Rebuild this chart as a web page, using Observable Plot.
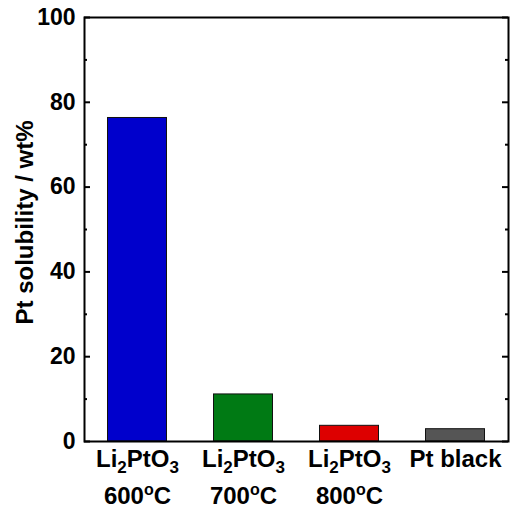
<!DOCTYPE html>
<html><head><meta charset="utf-8">
<script src="https://cdn.jsdelivr.net/npm/d3@7"></script>
<script src="https://cdn.jsdelivr.net/npm/@observablehq/plot@0.6"></script>
<style>
body{margin:0;background:#fff}
svg{font-family:Arial,"Liberation Sans",sans-serif;font-weight:bold}
</style>
</head><body><div id="chart"></div>
<script>
const categories = ["Li2PtO3 600oC", "Li2PtO3 700oC", "Li2PtO3 800oC", "Pt black"];
const values = [76.3, 11.1, 3.7, 2.9];
const colors = ["#0000cc", "#007a14", "#dd0000", "#555555"];
const labelLine1 = [
  [["Li",""],["2","sub"],["PtO",""],["3","sub"]],
  [["Li",""],["2","sub"],["PtO",""],["3","sub"]],
  [["Li",""],["2","sub"],["PtO",""],["3","sub"]],
  [["Pt black",""]]
];
const labelLine2 = [
  [["600",""],["o","sup"],["C",""]],
  [["700",""],["o","sup"],["C",""]],
  [["800",""],["o","sup"],["C",""]],
  []
];
const majorTicks = [0, 20, 40, 60, 80, 100];
const minorTicks = [10, 30, 50, 70, 90];
const yLabel = "Pt solubility / wt%";

const W = 513, H = 508, mL = 84, mT = 17, mR = 5, mB = 67;
const plotW = W - mL - mR;
const data = categories.map((c, i) => ({c, v: values[i], col: colors[i]}));

const chart = Plot.plot({
  width: W, height: H,
  marginLeft: mL, marginTop: mT, marginRight: mR, marginBottom: mB,
  style: {fontFamily: 'Arial,"Liberation Sans",sans-serif', fontWeight: "bold", fontSize: "23px", color: "#000", background: "#fff"},
  x: {type: "band", domain: categories, padding: 0},
  y: {domain: [0, 100]},
  color: {type: "identity"},
  marks: [
    Plot.barY(data, {x: "c", y: "v", fill: "col", stroke: "#111", strokeWidth: 1, insetLeft: 23.5, insetRight: 23.5}),
    Plot.tickY(majorTicks, {y: d => d, insetRight: plotW - 6, stroke: "#000", strokeWidth: 2}),
    Plot.tickY(majorTicks, {y: d => d, insetLeft: plotW - 6, stroke: "#000", strokeWidth: 2}),
    Plot.tickY(minorTicks, {y: d => d, insetRight: plotW - 3, stroke: "#000", strokeWidth: 2}),
    Plot.tickY(minorTicks, {y: d => d, insetLeft: plotW - 3, stroke: "#000", strokeWidth: 2}),
    Plot.frame({stroke: "#000", strokeWidth: 2}),
    Plot.axisY(majorTicks, {tickSize: 0, tickPadding: 9, fontSize: 23, fontWeight: "bold", label: null}),
    Plot.axisX({tickSize: 0, tickPadding: 0, fontSize: 24, fontWeight: "bold", label: null}),
    Plot.text([yLabel], {frameAnchor: "left", textAnchor: "middle", rotate: -90, dx: -59, dy: -7, fontSize: 24, fontWeight: "bold", fill: "#000"})
  ]
});
document.getElementById("chart").appendChild(chart);

// Rich-text x tick labels (subscripts / superscripts)
const texts = d3.select(chart).selectAll('g[aria-label="x-axis tick label"] text');
texts.each(function(_, i) {
  const t = d3.select(this);
  t.attr("y", null).attr("dy", null).text(null).attr("text-anchor", "middle");
  const lines = [labelLine1[i], labelLine2[i]];
  const baselines = [25.5, 62.5];
  lines.forEach((segs, li) => {
    if (!segs.length) return;
    let shift = 0;
    segs.forEach((s, si) => {
      const sp = t.append("tspan").text(s[0]);
      let target = s[1] === "sub" ? 6 : s[1] === "sup" ? -9 : 0;
      if (si === 0) { sp.attr("x", 0).attr("y", baselines[li] + target); }
      else sp.attr("dy", target - shift);
      shift = target;
      sp.style("font-size", (s[1] === "sub" ? 17 : s[1] === "sup" ? 16 : 24) + "px");
    });
  });
});
</script>
</body></html>
